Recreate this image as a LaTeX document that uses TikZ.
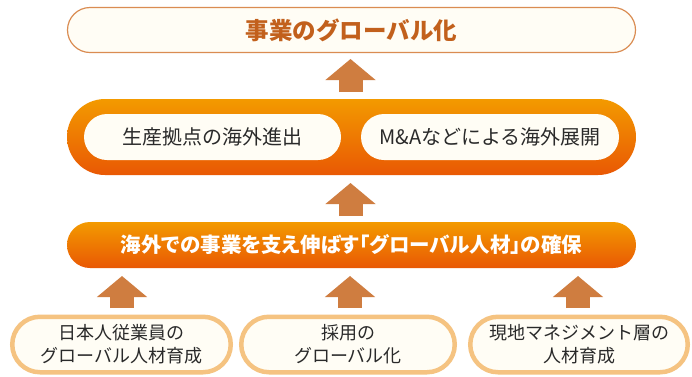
\documentclass[tikz,border=0pt]{standalone}
\usepackage{fontspec}
\setmainfont{Noto Sans CJK JP}
\newfontfamily\jpprop{Noto Sans CJK JP}[RawFeature=+palt]
\usetikzlibrary{arrows.meta}
\definecolor{titlec}{HTML}{C2601C}
\definecolor{titleline}{HTML}{DA8C52}
\definecolor{cream}{HTML}{FFFDF5}
\definecolor{orA}{HTML}{F39A00}
\definecolor{orB}{HTML}{E95804}
\definecolor{arrc}{HTML}{CF7D40}
\definecolor{lightline}{HTML}{F5C381}
\definecolor{txt}{HTML}{2A2A2A}
\tikzset{
  goalbox/.style={draw=titleline, line width=1.2pt, fill=cream, rounded corners=22.5pt,
    minimum width=568pt, minimum height=45pt, inner sep=0pt, text=titlec,
    font=\bfseries\fontsize{23.5}{26}\selectfont},
  orangebox/.style={top color=orA, bottom color=orB, draw=none, inner sep=0pt},
  innerpill/.style={fill=cream, draw=none, rounded corners=23pt, minimum width=257pt,
    minimum height=46pt, inner sep=0pt, text=txt, font=\fontsize{20}{24}\selectfont},
  basebox/.style={draw=lightline, line width=4.5pt, fill=cream, rounded corners=27.75pt,
    minimum height=55.5pt, inner sep=0pt, align=center, text=txt,
    font=\fontsize{18}{23}\selectfont},
  uparrow/.style={draw=arrc, line width=24pt, -{Triangle[length=21pt,width=49pt]}},
}
\begin{document}
\begin{tikzpicture}[x=1pt,y=-1pt]
\useasboundingbox (0,0) rectangle (692,376);
\fill[white] (0,0) rectangle (692,376);
% top goal
\node[goalbox] (goal) at (351.5,30) {事業のグローバル化};
% middle big orange box
\node[orangebox, rounded corners=38pt, minimum width=569pt, minimum height=76pt] (mid) at (351.5,137) {};
\node[innerpill] (prod) at (212.5,137) {生産拠点の海外進出};
\node[innerpill, minimum width=258pt] (ma) at (490,137) {M\&Aなどによる海外展開};
% bar
\node[orangebox, rounded corners=23pt, minimum width=569pt, minimum height=46pt,
  text=white, font=\jpprop\bfseries\fontsize{20.5}{24}\selectfont] (bar) at (351.5,245)
  {海外での事業を支え伸ばす「グローバル人材」の確保};
% bottom boxes
\node[basebox, minimum width=218.5pt] (b1) at (121.5,344.5) {日本人従業員の\\グローバル人材育成};
\node[basebox, minimum width=213.5pt] (b2) at (348,344.5) {採用の\\グローバル化};
\node[basebox, minimum width=217.5pt] (b3) at (579,344.5) {現地マネジメント層の\\人材育成};
% arrows
\coordinate (a1s) at (350.5,92);  \coordinate (a1e) at (350.5,59);
\coordinate (a2s) at (350.5,216); \coordinate (a2e) at (350.5,183);
\coordinate (a3s) at (122,308);   \coordinate (a3e) at (122,276);
\coordinate (a4s) at (350,308);   \coordinate (a4e) at (350,276);
\coordinate (a5s) at (578,308);   \coordinate (a5e) at (578,276);
\draw[uparrow] (a1s) -- (a1e);
\draw[uparrow] (a2s) -- (a2e);
\draw[uparrow] (a3s) -- (a3e);
\draw[uparrow] (a4s) -- (a4e);
\draw[uparrow] (a5s) -- (a5e);
\end{tikzpicture}
\end{document}
